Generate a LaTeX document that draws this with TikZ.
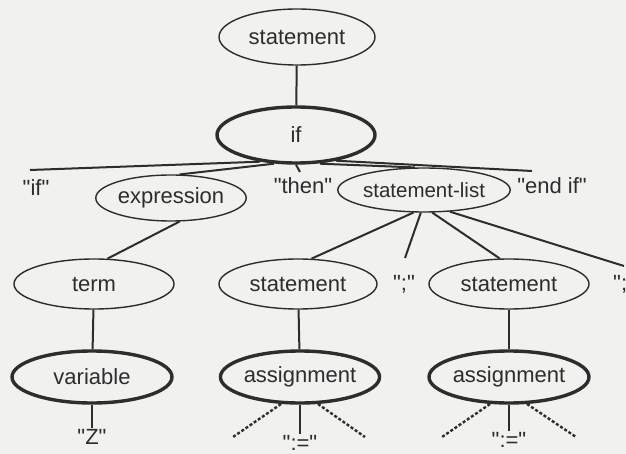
\documentclass[tikz,border=0pt]{standalone}
\usepackage{fontspec}
\setmainfont{Liberation Sans}[Ligatures=TeXOff]
\usetikzlibrary{shapes.geometric}
\definecolor{bg}{RGB}{241,241,239}
\definecolor{ink}{RGB}{45,45,45}
\begin{document}
\begin{tikzpicture}[x=1pt,y=-1pt,
  every node/.style={text=ink,font=\fontsize{22}{26}\selectfont},
  oval/.style={ellipse,draw=ink,line width=1.4pt,inner sep=0pt},
  bold/.style={oval,line width=3.4pt},
  lbl/.style={inner sep=1pt},
  edge/.style={draw=ink,line width=2pt},
  dashline/.style={draw=ink,line width=2.4pt,dash pattern=on 3pt off 2pt}]
\fill[bg] (0,0) rectangle (626,454);
\useasboundingbox (0,0) rectangle (626,454);
\clip (0,0) rectangle (626,454);
% nodes
\node[oval,minimum width=156pt,minimum height=56pt] (st0) at (297,37) {statement};
\node[bold,minimum width=158pt,minimum height=56pt] (if) at (296,135) {if};
\node[lbl] (kif) at (36,188) {"if"};
\node[oval,minimum width=136pt,minimum height=46pt] (expr) at (171,198) {expression};
\node[lbl] (then) at (303,186) {"then"};
\node[oval,minimum width=138pt,minimum height=44pt,font=\fontsize{20.5}{24}\selectfont] (sl) at (424,190) {statement-list};
\node[lbl] (endif) at (552,186) {"end if"};
\node[oval,minimum width=160pt,minimum height=50pt] (term) at (94,284) {term};
\node[oval,minimum width=158pt,minimum height=50pt] (st1) at (298,284) {statement};
\node[lbl] (semi1) at (404,284) {";"};
\node[oval,minimum width=160pt,minimum height=50pt] (st2) at (509,284) {statement};
\node[lbl,anchor=west] (semi2) at (612,284) {";"};
\node[bold,minimum width=160pt,minimum height=52pt] (var) at (92,377) {variable};
\node[bold,minimum width=158pt,minimum height=52pt] (as1) at (300,377) {assignment};
\node[bold,minimum width=160pt,minimum height=52pt] (as2) at (509,377) {assignment};
\node[lbl] (z) at (92,437) {"Z"};
\node[lbl] (ass1) at (300,443) {":="};
\node[lbl] (ass2) at (509,440) {":="};
% free ends
\coordinate (eif) at (30,170);
\coordinate (ethen) at (300,172);
\coordinate (eend) at (532,171);
\coordinate (esemi1) at (405,258);
\coordinate (esemi2) at (624,266);
\coordinate (d1a) at (281,404); \coordinate (d1b) at (233,437);
\coordinate (d1c) at (318,404); \coordinate (d1d) at (365,437);
\coordinate (d2a) at (490,404); \coordinate (d2b) at (442,437);
\coordinate (d2c) at (527,404); \coordinate (d2d) at (576,437);
% connectors
\draw[edge] (st0) -- (if);
\draw[edge] ([xshift=-36pt,yshift=3pt]if.south) -- (eif);
\draw[edge] ([xshift=-22pt,yshift=1pt]if.south) -- (expr.70);
\draw[edge] (if.south) -- (ethen);
\draw[edge] ([xshift=24pt,yshift=1pt]if.south) -- (sl.112);
\draw[edge] ([xshift=40pt,yshift=4pt]if.south) -- (eend);
\draw[edge] (expr.290) -- (term.62);
\draw[edge] (sl.245) -- (st1.62);
\draw[edge] (sl.262) -- (esemi1);
\draw[edge] (sl.290) -- (st2.110);
\draw[edge] (sl.320) -- (esemi2);
\draw[edge] (term) -- (var);
\draw[edge] (st1) -- (as1);
\draw[edge] (st2) -- (as2);
\draw[edge] (var) -- (z);
\draw[edge] (as1) -- (ass1);
\draw[edge] (as2) -- (ass2);
\draw[dashline] (d1a) -- (d1b);
\draw[dashline] (d1c) -- (d1d);
\draw[dashline] (d2a) -- (d2b);
\draw[dashline] (d2c) -- (d2d);
\end{tikzpicture}
\end{document}
